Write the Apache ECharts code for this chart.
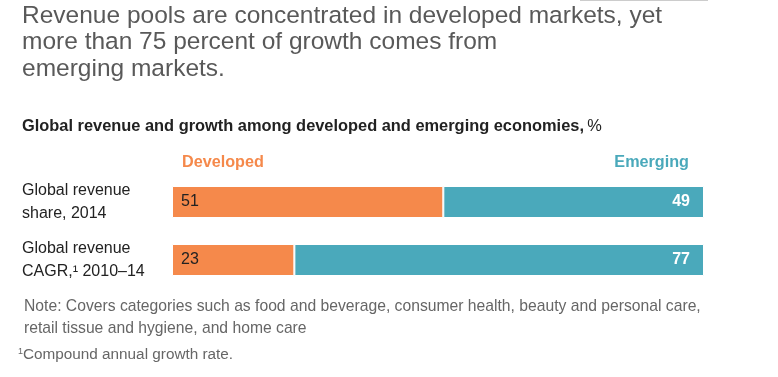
<!DOCTYPE html>
<html><head><meta charset="utf-8">
<script src="https://cdn.jsdelivr.net/npm/echarts@6/dist/echarts.min.js"></script>
<style>html,body{margin:0;padding:0;background:#fff}#c{width:778px;height:377px}</style>
</head><body><div id="c"></div>
<script>
var categories = ['Global revenue\nshare, 2014', 'Global revenue\nCAGR,¹ 2010–14'];
var seriesNames = ['Developed', 'Emerging'];
var developed = [51, 23];
var emerging = [49, 77];
var axisMax = 100;

var FONT = "'Liberation Sans', Arial, sans-serif";
var ORANGE = '#F5894B';
var TEAL = '#4AA9BB';

var chart = echarts.init(document.getElementById('c'), null, {renderer: 'canvas'});
chart.setOption({
  animation: false,
  textStyle: {fontFamily: FONT},
  grid: {left: 172, right: 74, top: 173, height: 116},
  xAxis: {type: 'value', min: 0, max: axisMax, show: false},
  yAxis: {
    type: 'category', data: categories, inverse: true,
    axisLine: {show: false}, axisTick: {show: false},
    axisLabel: {align: 'left', margin: 150, fontSize: 16, lineHeight: 23, color: '#222', fontFamily: FONT}
  },
  series: [
    {name: seriesNames[0], type: 'bar', stack: 'a', data: developed, barWidth: 32,
     itemStyle: {color: ORANGE, borderColor: '#fff', borderWidth: 1},
     label: {show: true, position: 'insideLeft', distance: 9, color: '#222', fontSize: 16, fontFamily: FONT}},
    {name: seriesNames[1], type: 'bar', stack: 'a', data: emerging, barWidth: 32,
     itemStyle: {color: TEAL, borderColor: '#fff', borderWidth: 1},
     label: {show: true, position: 'insideRight', distance: 14, color: '#fff', fontWeight: 'bold', fontSize: 16, fontFamily: FONT}}
  ],
  graphic: [
    {type: 'line', shape: {x1: 580, y1: 0.5, x2: 708, y2: 0.5}, style: {stroke: '#ccc', lineWidth: 1}},
    {type: 'text', left: 22, top: 2.5, style: {
      text: 'Revenue pools are concentrated in developed markets, yet\nmore than 75 percent of growth comes from\nemerging markets.',
      font: '24.5px ' + FONT, fill: '#595959', lineHeight: 26.5}},
    {type: 'text', left: 22, top: 118, style: {
      text: '{b|Global revenue and growth among developed and emerging economies,} {n|%}',
      rich: {b: {fontWeight: 'bold', fontSize: 16.4, fill: '#222', fontFamily: FONT},
             n: {fontSize: 16.4, fill: '#222', fontFamily: FONT}}}},
    {type: 'text', left: 182, top: 155, style: {text: seriesNames[0], font: 'bold 16.2px ' + FONT, fill: ORANGE}},
    {type: 'text', right: 89, top: 155, style: {text: seriesNames[1], font: 'bold 16.2px ' + FONT, fill: TEAL}},
    {type: 'text', left: 24, top: 296, style: {
      text: 'Note: Covers categories such as food and beverage, consumer health, beauty and personal care,\nretail tissue and hygiene, and home care',
      font: '15.7px ' + FONT, fill: '#666', lineHeight: 21.5}},
    {type: 'text', left: 18, top: 347, style: {
      text: '{s|1}{t|Compound annual growth rate.}',
      rich: {s: {fontSize: 9, fill: '#666', fontFamily: FONT, verticalAlign: 'top', padding: [0,0,7,0]},
             t: {fontSize: 15.3, fill: '#666', fontFamily: FONT}}}}
  ]
});
</script></body></html>
